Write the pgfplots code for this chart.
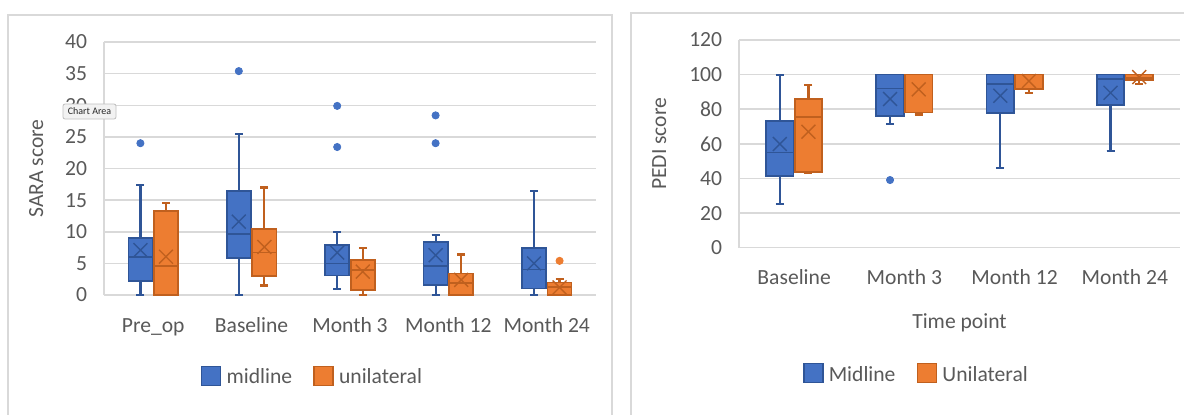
\documentclass[border=0pt]{standalone}
\usepackage{pgfplots}
\pgfplotsset{compat=1.18}
\usepgfplotslibrary{statistics}
\usepackage{fontspec}
\setmainfont{Carlito}
\definecolor{midfill}{HTML}{4472C4}
\definecolor{midedge}{HTML}{2F5597}
\definecolor{unifill}{HTML}{ED7D31}
\definecolor{uniedge}{HTML}{C0601E}
\definecolor{gridgray}{HTML}{D9D9D9}
\definecolor{labelgray}{HTML}{595959}
\pgfplotsset{
  excel/.style={
    scale only axis, clip=false,
    axis x line*=bottom, axis y line*=left,
    axis line style={draw=gridgray, line width=0.75pt, -},
    ymajorgrids, grid style={draw=gridgray, line width=0.75pt},
    major tick length=0pt, tick style={draw=none},
    /pgf/number format/assume math mode=true,
    ticklabel style={font=\fontsize{10.8}{13}\selectfont, text=labelgray},
    yticklabel style={anchor=east, inner sep=0pt, xshift=-8.25pt},
    xticklabel style={anchor=base, inner sep=0pt, yshift=-18.5pt},
    label style={font=\fontsize{10.8}{13}\selectfont, text=labelgray},
    legend style={draw=none, fill=none, font=\fontsize{10.8}{13}\selectfont, text=labelgray,
      legend columns=2, /tikz/every even column/.append style={column sep=8pt},
      nodes={inner sep=2.6pt}},
    boxplot/draw direction=y,
    boxplot/every whisker/.style={line width=1.1pt},
    boxplot/every box/.style={line width=0.85pt},
    boxplot/every median/.style={line width=0.85pt},
  },
  midbox/.style={draw=midedge, fill=midfill, line width=0.85pt},
  unibox/.style={draw=uniedge, fill=unifill, line width=0.85pt},
  midmean/.style={only marks, mark=x, mark size=4.9pt, mark options={draw=midedge, line width=0.7pt}},
  unimean/.style={only marks, mark=x, mark size=4.9pt, mark options={draw=uniedge, line width=0.7pt}},
  midout/.style={only marks, mark=*, mark size=1.8pt, mark options={draw=midfill, fill=midfill}},
  uniout/.style={only marks, mark=*, mark size=1.8pt, mark options={draw=unifill, fill=unifill}},
  sqlegend/.style={legend image code/.code={\draw[##1] (0pt,-3.75pt) rectangle (9.5pt,5.75pt);}},
}
\begin{document}
\begin{tikzpicture}
\path[use as bounding box] (0,0) rectangle (592pt,-207pt);
\clip (0,0) rectangle (592pt,-207pt);
\draw[gridgray, line width=0.75pt] (4pt,-7.5pt) rectangle (306pt,-220pt);
\draw[gridgray, line width=0.75pt] (315.5pt,-6.5pt) rectangle (600pt,-220pt);
% ---------------- Left chart: SARA ----------------
\begin{axis}[excel, at={(52pt,-147.5pt)}, anchor=south west,
  width=246pt, height=126.5pt,
  xmin=-0.5, xmax=4.5, ymin=0, ymax=40, ytick={0,5,...,40},
  xtick={0,1,2,3,4}, xticklabels={Pre\_op,Baseline,Month 3,Month 12,Month 24},
  ylabel={SARA score}, ylabel style={at={(axis description cs:-0.138,0.5)}, anchor=center},
  legend style={at={(0.427,-0.328)}, anchor=center}]
\addlegendimage{sqlegend, draw=midedge, fill=midfill, line width=0.75pt}
\addlegendentry{midline}
\addlegendimage{sqlegend, draw=uniedge, fill=unifill, line width=0.75pt}
\addlegendentry{unilateral}
% midline
\addplot[midbox, boxplot prepared={draw direction=y, draw position=-0.13, box extend=0.245, whisker extend=0.08, lower whisker=0, lower quartile=2.26, median=6.05, upper quartile=9.05, upper whisker=17.4}] coordinates {};
\addplot[midbox, boxplot prepared={draw direction=y, draw position=0.87, box extend=0.245, whisker extend=0.08, lower whisker=0, lower quartile=5.9, median=9.6, upper quartile=16.4, upper whisker=25.4}] coordinates {};
\addplot[midbox, boxplot prepared={draw direction=y, draw position=1.87, box extend=0.245, whisker extend=0.08, lower whisker=1.0, lower quartile=3.1, median=5.0, upper quartile=7.9, upper whisker=10.0}] coordinates {};
\addplot[midbox, boxplot prepared={draw direction=y, draw position=2.87, box extend=0.245, whisker extend=0.08, lower whisker=0, lower quartile=1.6, median=4.6, upper quartile=8.4, upper whisker=9.5}] coordinates {};
\addplot[midbox, boxplot prepared={draw direction=y, draw position=3.87, box extend=0.245, whisker extend=0.08, lower whisker=0, lower quartile=1.05, median=4.05, upper quartile=7.4, upper whisker=16.4}] coordinates {};
% unilateral
\addplot[unibox, boxplot prepared={draw direction=y, draw position=0.13, box extend=0.245, whisker extend=0.08, lower whisker=0, lower quartile=0, median=4.6, upper quartile=13.3, upper whisker=14.5}] coordinates {};
\addplot[unibox, boxplot prepared={draw direction=y, draw position=1.13, box extend=0.245, whisker extend=0.08, lower whisker=1.5, lower quartile=3.0, median=6.7, upper quartile=10.4, upper whisker=17.0}] coordinates {};
\addplot[unibox, boxplot prepared={draw direction=y, draw position=2.13, box extend=0.245, whisker extend=0.08, lower whisker=0, lower quartile=0.8, median=3.95, upper quartile=5.5, upper whisker=7.4}] coordinates {};
\addplot[unibox, boxplot prepared={draw direction=y, draw position=3.13, box extend=0.245, whisker extend=0.08, lower whisker=0, lower quartile=0, median=1.9, upper quartile=3.4, upper whisker=6.4}] coordinates {};
\addplot[unibox, boxplot prepared={draw direction=y, draw position=4.13, box extend=0.245, whisker extend=0.08, lower whisker=0, lower quartile=0, median=1.3, upper quartile=2.0, upper whisker=2.5}] coordinates {};
% means
\addplot[midmean] coordinates {(-0.13,7.1) (0.87,11.6) (1.87,6.7) (2.87,6.3) (3.87,5.0)};
\addplot[unimean] coordinates {(0.13,6.05) (1.13,7.6) (2.13,3.7) (3.13,2.4) (4.13,1.2)};
% outliers
\addplot[midout] coordinates {(-0.13,24.0) (0.87,35.4) (1.87,29.9) (1.87,23.4) (2.87,28.4) (2.87,24.0)};
\addplot[uniout] coordinates {(4.13,5.4)};
\end{axis}
% tooltip
\node[draw=black!25, fill=black!5, rounded corners=1pt, inner sep=0pt, minimum width=26.5pt, minimum height=7.5pt, font=\fontsize{5}{6}\selectfont, text=black!85] at (44.75pt,-55.75pt) {Chart Area};
% ---------------- Right chart: PEDI ----------------
\begin{axis}[excel, at={(369.5pt,-123.85pt)}, anchor=south west,
  width=220.5pt, height=103.85pt,
  xmin=-0.5, xmax=3.5, ymin=0, ymax=120, ytick={0,20,...,120},
  xtick={0,1,2,3}, xticklabels={Baseline,Month 3,Month 12,Month 24},
  ylabel={PEDI score}, ylabel style={at={(axis description cs:-0.181,0.5)}, anchor=center},
  xlabel={Time point}, xlabel style={at={(axis description cs:0.5,-0.391)}, anchor=base},
  legend style={at={(0.406,-0.613)}, anchor=center}]
\addlegendimage{sqlegend, draw=midedge, fill=midfill, line width=0.75pt}
\addlegendentry{Midline}
\addlegendimage{sqlegend, draw=uniedge, fill=unifill, line width=0.75pt}
\addlegendentry{Unilateral}
\addplot[midbox, boxplot prepared={draw direction=y, draw position=-0.13, box extend=0.25, whisker extend=0.073, lower whisker=25.2, lower quartile=41.6, median=55, upper quartile=73.2, upper whisker=100}] coordinates {};
\addplot[midbox, boxplot prepared={draw direction=y, draw position=0.87, box extend=0.25, whisker extend=0.073, lower whisker=71.5, lower quartile=76, median=92, upper quartile=100, upper whisker=100}] coordinates {};
\addplot[midbox, boxplot prepared={draw direction=y, draw position=1.87, box extend=0.25, whisker extend=0.073, lower whisker=46.2, lower quartile=78, median=94.4, upper quartile=100, upper whisker=100}] coordinates {};
\addplot[midbox, boxplot prepared={draw direction=y, draw position=2.87, box extend=0.25, whisker extend=0.073, lower whisker=56, lower quartile=82.4, median=97.5, upper quartile=100, upper whisker=100}] coordinates {};
\addplot[unibox, boxplot prepared={draw direction=y, draw position=0.13, box extend=0.25, whisker extend=0.073, lower whisker=43.3, lower quartile=43.9, median=75.7, upper quartile=85.9, upper whisker=94}] coordinates {};
\addplot[unibox, boxplot prepared={draw direction=y, draw position=1.13, box extend=0.25, whisker extend=0.073, lower whisker=77, lower quartile=78.2, median=100, upper quartile=100, upper whisker=100}] coordinates {};
\addplot[unibox, boxplot prepared={draw direction=y, draw position=2.13, box extend=0.25, whisker extend=0.073, lower whisker=89.5, lower quartile=91.7, median=100, upper quartile=100, upper whisker=100}] coordinates {};
\addplot[unibox, boxplot prepared={draw direction=y, draw position=3.13, box extend=0.25, whisker extend=0.073, lower whisker=94.5, lower quartile=96.9, median=98.2, upper quartile=100, upper whisker=100}] coordinates {};
\addplot[midmean] coordinates {(-0.13,59.9) (0.87,85.9) (1.87,87.8) (2.87,89.5)};
\addplot[unimean] coordinates {(0.13,67) (1.13,91.5) (2.13,96.3) (3.13,98.6)};
\addplot[midout] coordinates {(0.87,39.1)};
\end{axis}
\end{tikzpicture}
\end{document}
